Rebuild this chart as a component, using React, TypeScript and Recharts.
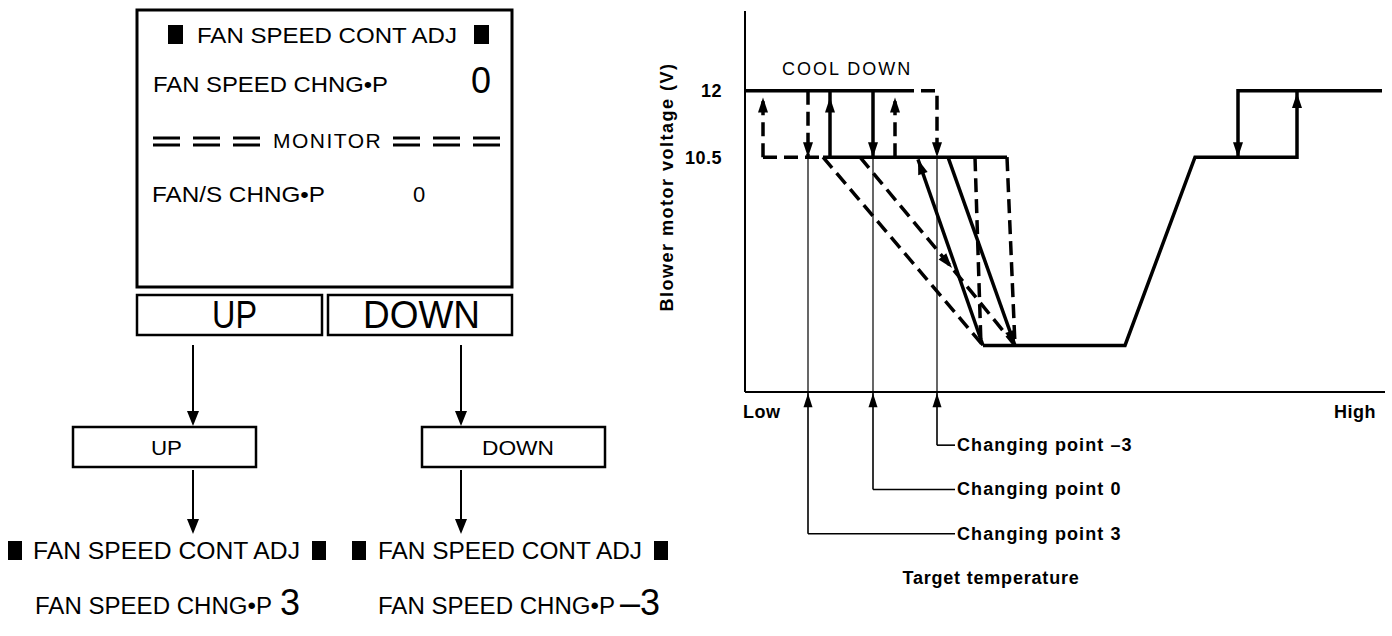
import React from "react";
import { LineChart, Line, XAxis, YAxis, ReferenceLine, ReferenceDot } from "recharts";

const FONT = '"Liberation Sans", Arial, Helvetica, sans-serif';

// x: target temperature, Low (0) .. High (128); y: blower motor voltage (V)
const X_DOMAIN = [0, 128];
const Y_DOMAIN = [5.2, 13.8];
const VOLT_TICKS = [10.5, 12];
const TEMP_TICKS = [0, 128];
const TEMP_LABELS: Record<number, string> = { 0: "Low", 128: "High" };

type Pt = { x: number; v: number; arrow?: boolean };

// cool down side: 12 V -> 10.5 V steps for changing points 3 / 0 / -3
const top12Solid: Pt[] = [{ x: 0, v: 12 }, { x: 31, v: 12 }];
const top12Dashed: Pt[] = [{ x: 31, v: 12 }, { x: 38.4, v: 12 }, { x: 38.4, v: 10.5, arrow: true }];
const step3Up: Pt[] = [{ x: 3.6, v: 10.5 }, { x: 3.6, v: 11.85, arrow: true }];
const step3Down: Pt[] = [{ x: 12.6, v: 12 }, { x: 12.6, v: 10.5, arrow: true }];
const step0Up: Pt[] = [{ x: 17, v: 10.5 }, { x: 17, v: 11.85, arrow: true }, { x: 17, v: 12 }];
const step0Down: Pt[] = [{ x: 25.6, v: 12 }, { x: 25.6, v: 10.5, arrow: true }];
const stepM3Up: Pt[] = [{ x: 30, v: 10.5 }, { x: 30, v: 11.85, arrow: true }];
const mid105Dashed: Pt[] = [{ x: 3.6, v: 10.5 }, { x: 15.6, v: 10.5 }];
const mid105Solid: Pt[] = [{ x: 15.6, v: 10.5 }, { x: 52.4, v: 10.5 }];

// 10.5 V -> low voltage ramps
const fall3: Pt[] = [{ x: 15.6, v: 10.5 }, { x: 47.6, v: 6.25 }];
const fall0: Pt[] = [{ x: 23, v: 10.5 }, { x: 41.4, v: 8.0, arrow: true }, { x: 54, v: 6.25 }];
const rise0: Pt[] = [{ x: 47.6, v: 6.25 }, { x: 34.6, v: 10.45, arrow: true }];
const fallSolid: Pt[] = [{ x: 40.6, v: 10.5 }, { x: 54, v: 6.25, arrow: true }];
const fallM3a: Pt[] = [{ x: 46, v: 10.5 }, { x: 47.2, v: 6.25 }];
const fallM3b: Pt[] = [{ x: 52.4, v: 10.5 }, { x: 54, v: 6.25 }];

// warm up side
const warmUp: Pt[] = [
  { x: 47.6, v: 6.25 },
  { x: 76, v: 6.25 },
  { x: 90, v: 10.5 },
  { x: 110.4, v: 10.5 },
  { x: 110.4, v: 11.95, arrow: true },
  { x: 110.4, v: 12 },
];
const warmDown: Pt[] = [{ x: 127.4, v: 12 }, { x: 98.6, v: 12 }, { x: 98.6, v: 10.5, arrow: true }];

const solidSeries = [top12Solid, step0Up, step0Down, mid105Solid, rise0, fallSolid, warmUp, warmDown];
const dashedSeries = [top12Dashed, step3Up, step3Down, stepM3Up, mid105Dashed, fall3, fall0, fallM3a, fallM3b];

// changing point call-outs
const changePointX = [12.6, 25.6, 38.4];
const changePointNames = ["Changing point 3", "Changing point 0", "Changing point \u20133"];
const calloutV = [2, 3, 4];
const calloutEndX = 42;
const axisArrowV = 5.17;

const ArrowDot = (props: any) => {
  const { cx, cy, index, points, payload } = props;
  if (!payload || !payload.arrow || !points || index === 0) return null;
  const prev = points[index - 1];
  const a = Math.atan2(cy - prev.y, cx - prev.x);
  const L = 15;
  const W = 5;
  const bx = cx - L * Math.cos(a);
  const by = cy - L * Math.sin(a);
  const nx = -Math.sin(a) * W;
  const ny = Math.cos(a) * W;
  return (
    <polygon
      key={`arrow-${index}`}
      points={`${cx},${cy} ${bx + nx},${by + ny} ${bx - nx},${by - ny}`}
      fill="#000"
      stroke="none"
    />
  );
};

const UpArrow = (props: any) => {
  const { cx, cy } = props;
  return <polygon points={`${cx},${cy} ${cx - 4.5},${cy + 14} ${cx + 4.5},${cy + 14}`} fill="#000" />;
};

const textStyle = { fontFamily: FONT, fontSize: 18, fontWeight: 700, letterSpacing: 1.1, fill: "#000" };

const CalloutLabel = ({ viewBox, text }: any) => (
  <text x={viewBox.x + viewBox.width + 2} y={viewBox.y + 6} style={textStyle}>
    {text}
  </text>
);

const VoltTick = ({ x, y, payload }: any) => (
  <text x={x - 23} y={y} dy="0.36em" textAnchor="end" style={{ ...textStyle, letterSpacing: 0.5 }}>
    {payload.value}
  </text>
);

const TempTick = ({ x, y, payload }: any) => {
  const first = payload.value === TEMP_TICKS[0];
  return (
    <text
      x={first ? x - 2 : x - 4}
      y={y + 26}
      textAnchor={first ? "start" : "end"}
      style={{ ...textStyle, letterSpacing: 0.5 }}
    >
      {TEMP_LABELS[payload.value]}
    </text>
  );
};

const VoltLabel = ({ viewBox }: any) => {
  const x = viewBox.x + 22;
  const y = viewBox.y + 176;
  return (
    <text
      x={x}
      y={y}
      transform={`rotate(-90 ${x} ${y})`}
      textAnchor="middle"
      dominantBaseline="central"
      style={{ ...textStyle, letterSpacing: 1.5 }}
    >
      Blower motor voltage (V)
    </text>
  );
};

const TempLabel = ({ viewBox }: any) => (
  <text x={viewBox.x + 246} y={viewBox.y + 192} textAnchor="middle" style={{ ...textStyle, letterSpacing: 0.8 }}>
    Target temperature
  </text>
);

const CoolDown = (props: any) => (
  <text x={props.cx} y={props.cy} style={{ ...textStyle, fontWeight: 400, letterSpacing: 2 }}>
    COOL DOWN
  </text>
);

const panelText = { fontFamily: FONT, fill: "#000" };

const Equals = ({ x }: { x: number }) => (
  <g>
    <rect x={x} y={136.5} width={27} height={3} fill="#000" />
    <rect x={x} y={143.5} width={27} height={3} fill="#000" />
  </g>
);

const SettingPanel = () => (
  <svg width={700} height={636} style={{ position: "absolute", left: 0, top: 0 }}>
    <g fill="none" stroke="#000">
      <rect x={137} y={10} width={375} height={277} strokeWidth={3} />
      <rect x={137} y={295} width={185} height={40} strokeWidth={2.5} />
      <rect x={328} y={295} width={184} height={40} strokeWidth={2.5} />
      <rect x={73} y={427} width={183} height={40} strokeWidth={2.5} />
      <rect x={422} y={427} width={183} height={40} strokeWidth={2.5} />
    </g>

    <rect x={168} y={25} width={15} height={19} fill="#000" />
    <text x={197} y={43} fontSize={22} textLength={260} lengthAdjust="spacingAndGlyphs" style={panelText}>FAN SPEED CONT ADJ</text>
    <rect x={474} y={25} width={15} height={19} fill="#000" />

    <text x={153} y={92} fontSize={22} textLength={235} lengthAdjust="spacingAndGlyphs" style={panelText}>FAN SPEED CHNG•P</text>
    <text x={471} y={93} fontSize={36} style={panelText}>0</text>

    {[153, 193, 233, 393, 433, 473].map((x) => (
      <Equals key={x} x={x} />
    ))}
    <text x={273} y={148} fontSize={21} letterSpacing={1.5} style={panelText}>MONITOR</text>

    <text x={152} y={202} fontSize={22} textLength={173} lengthAdjust="spacingAndGlyphs" style={panelText}>FAN/S CHNG•P</text>
    <text x={413} y={202} fontSize={22} style={panelText}>0</text>

    <text x={212} y={328} fontSize={38} textLength={45} lengthAdjust="spacingAndGlyphs" style={panelText}>UP</text>
    <text x={363} y={328} fontSize={38} textLength={117} lengthAdjust="spacingAndGlyphs" style={panelText}>DOWN</text>

    <g stroke="#000" strokeWidth={2}>
      <line x1={193} y1={345} x2={193} y2={414} />
      <line x1={193} y1={470} x2={193} y2={522} />
      <line x1={461} y1={345} x2={461} y2={414} />
      <line x1={461} y1={470} x2={461} y2={522} />
    </g>
    <g fill="#000">
      <polygon points="187,411 199,411 193,426" />
      <polygon points="187,519 199,519 193,534" />
      <polygon points="455,411 467,411 461,426" />
      <polygon points="455,519 467,519 461,534" />
    </g>

    <text x={151} y={455} fontSize={21} textLength={31} lengthAdjust="spacingAndGlyphs" style={panelText}>UP</text>
    <text x={482} y={455} fontSize={21} textLength={72} lengthAdjust="spacingAndGlyphs" style={panelText}>DOWN</text>

    <rect x={8} y={541} width={14} height={19} fill="#000" />
    <text x={33} y={559} fontSize={24} textLength={267} lengthAdjust="spacingAndGlyphs" style={panelText}>FAN SPEED CONT ADJ</text>
    <rect x={312} y={541} width={14} height={19} fill="#000" />
    <text x={35} y={614} fontSize={23} textLength={237} lengthAdjust="spacingAndGlyphs" style={panelText}>FAN SPEED CHNG•P</text>
    <text x={280} y={615} fontSize={36} style={panelText}>3</text>

    <rect x={352} y={541} width={14} height={19} fill="#000" />
    <text x={378} y={559} fontSize={24} textLength={264} lengthAdjust="spacingAndGlyphs" style={panelText}>FAN SPEED CONT ADJ</text>
    <rect x={654} y={541} width={14} height={19} fill="#000" />
    <text x={378} y={614} fontSize={23} textLength={237} lengthAdjust="spacingAndGlyphs" style={panelText}>FAN SPEED CHNG•P</text>
    <text x={620} y={615} fontSize={36} style={panelText}>{"\u20133"}</text>
  </svg>
);

export default function App() {
  return (
    <div style={{ position: "absolute", left: 0, top: 0, width: 1392, height: 636, background: "#fff" }}>
      <SettingPanel />
      <div style={{ position: "absolute", left: 0, top: 0 }}>
        <LineChart width={1392} height={636} margin={{ top: 11, right: 7, bottom: 214, left: 645 }}>
          <XAxis
            type="number"
            dataKey="x"
            domain={X_DOMAIN}
            ticks={TEMP_TICKS}
            height={30}
            tickSize={0}
            tickMargin={0}
            tickLine={false}
            axisLine={{ stroke: "#000", strokeWidth: 2 }}
            tick={<TempTick />}
            label={<TempLabel />}
          />
          <YAxis
            type="number"
            domain={Y_DOMAIN}
            ticks={VOLT_TICKS}
            width={100}
            tickSize={0}
            tickMargin={0}
            tickLine={false}
            axisLine={{ stroke: "#000", strokeWidth: 2 }}
            tick={<VoltTick />}
            label={<VoltLabel />}
          />

          {changePointX.map((cx) => (
            <ReferenceLine
              key={`in-${cx}`}
              segment={[{ x: cx, y: 10.5 }, { x: cx, y: Y_DOMAIN[0] }]}
              stroke="#000"
              strokeWidth={1.2}
              ifOverflow="visible"
            />
          ))}
          {changePointX.map((cx, i) => (
            <ReferenceLine
              key={`out-${cx}`}
              segment={[{ x: cx, y: Y_DOMAIN[0] }, { x: cx, y: calloutV[i] }]}
              stroke="#000"
              strokeWidth={1.6}
              ifOverflow="visible"
            />
          ))}
          {changePointX.map((cx, i) => (
            <ReferenceLine
              key={`h-${cx}`}
              segment={[{ x: cx, y: calloutV[i] }, { x: calloutEndX, y: calloutV[i] }]}
              stroke="#000"
              strokeWidth={1.6}
              ifOverflow="visible"
              label={<CalloutLabel text={changePointNames[i]} />}
            />
          ))}
          {changePointX.map((cx) => (
            <ReferenceDot key={`a-${cx}`} x={cx} y={axisArrowV} ifOverflow="visible" shape={<UpArrow />} />
          ))}

          <ReferenceDot x={7.4} y={12.36} ifOverflow="visible" shape={<CoolDown />} />

          {solidSeries.map((d, i) => (
            <Line
              key={`s-${i}`}
              data={d}
              dataKey="v"
              type="linear"
              stroke="#000"
              strokeWidth={3.5}
              strokeLinejoin="miter"
              dot={ArrowDot}
              activeDot={false}
              legendType="none"
              isAnimationActive={false}
            />
          ))}
          {dashedSeries.map((d, i) => (
            <Line
              key={`d-${i}`}
              data={d}
              dataKey="v"
              type="linear"
              stroke="#000"
              strokeWidth={3.5}
              strokeDasharray="14 7"
              dot={ArrowDot}
              activeDot={false}
              legendType="none"
              isAnimationActive={false}
            />
          ))}
        </LineChart>
      </div>
    </div>
  );
}
